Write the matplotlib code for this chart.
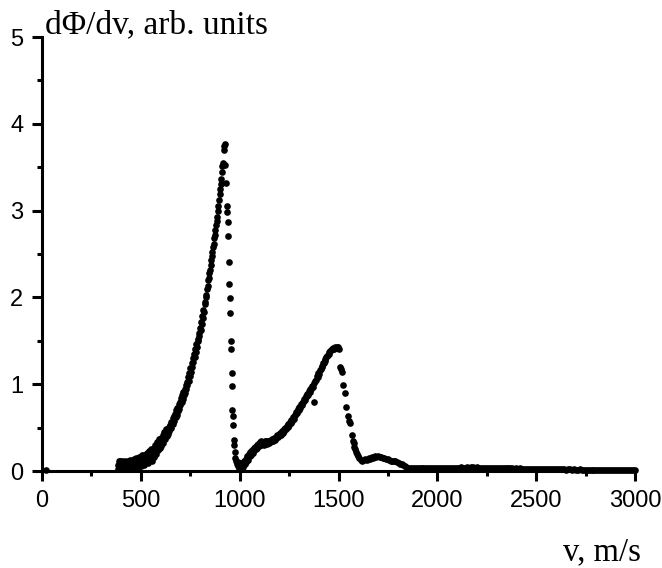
import numpy as np
import matplotlib
matplotlib.use("Agg")
import matplotlib.pyplot as plt
from matplotlib.ticker import MultipleLocator

# single point near the origin
v_origin = [20]
y_origin = [0.01]

# rising edge of the first peak (scattered)
v_rise1 = [382, 385, 388, 391, 394, 397, 400, 403, 406, 409, 412, 415, 418, 421, 424, 427, 430, 433, 436, 439,
           442, 445, 448, 451, 454, 457, 460, 463, 466, 469, 472, 475, 478, 481, 484, 487, 490, 493, 496, 499,
           502, 505, 508, 511, 514, 517, 520, 523, 526, 529, 532, 535, 538, 541, 544, 547, 550, 553, 556, 559,
           562, 565, 568, 571, 574, 577, 580, 583, 586, 589, 592, 595, 598, 601, 604, 607, 610, 613, 616, 619,
           622, 625, 628, 631, 634, 637, 640, 643, 646, 649, 652, 655, 658, 661, 664, 667, 670, 673, 676, 679,
           682, 685, 688, 691, 694, 697, 700, 703, 706, 709, 712, 715, 718, 721, 724, 727, 730, 733, 736, 739,
           742, 745, 748, 751, 754, 757, 760, 763, 766, 769, 772, 775, 778, 781, 784, 787, 790, 793, 796, 799,
           802, 805, 808, 811, 814, 817, 820, 823, 826, 829, 832, 835, 838, 841, 844, 847, 850, 853, 856, 859,
           862, 865, 868, 871, 874, 877, 880, 883, 886, 889, 892, 895, 898, 901, 904, 907, 910, 913, 916, 919,
           922, 924]
y_rise1 = [0.02, 0.07, 0.11, 0.04, 0.09, 0.12, 0.03, 0.08, 0.11, 0.05, 0.10, 0.07, 0.02, 0.12, 0.08, 0.04, 0.10, 0.07, 0.12, 0.05,
           0.09, 0.13, 0.03, 0.08, 0.11, 0.06, 0.10, 0.14, 0.05, 0.09, 0.12, 0.07, 0.15, 0.10, 0.04, 0.13, 0.08, 0.16, 0.11, 0.06,
           0.14, 0.18, 0.09, 0.15, 0.07, 0.19, 0.12, 0.16, 0.10, 0.21, 0.14, 0.09, 0.19, 0.23, 0.13, 0.20, 0.16, 0.25, 0.12, 0.21,
           0.18, 0.27, 0.16, 0.23, 0.30, 0.20, 0.26, 0.33, 0.24, 0.29, 0.37, 0.26, 0.32, 0.29, 0.38, 0.34, 0.41, 0.32, 0.39, 0.45,
           0.37, 0.42, 0.48, 0.40, 0.46, 0.43, 0.51, 0.46, 0.53, 0.49, 0.57, 0.50, 0.55, 0.61, 0.54, 0.63, 0.58, 0.66, 0.62, 0.70,
           0.65, 0.73, 0.69, 0.77, 0.72, 0.80, 0.76, 0.84, 0.80, 0.88, 0.83, 0.91, 0.87, 0.95, 0.90, 0.99, 0.94, 1.03, 0.99, 1.08,
           1.04, 1.13, 1.09, 1.19, 1.14, 1.25, 1.20, 1.30, 1.26, 1.35, 1.31, 1.40, 1.37, 1.46, 1.43, 1.52, 1.50, 1.59, 1.56, 1.65,
           1.63, 1.72, 1.69, 1.78, 1.76, 1.85, 1.83, 1.92, 1.95, 2.03, 2.01, 2.10, 2.13, 2.20, 2.22, 2.28, 2.32, 2.37, 2.43, 2.48,
           2.52, 2.58, 2.62, 2.68, 2.72, 2.78, 2.83, 2.88, 2.93, 2.99, 3.05, 3.12, 3.19, 3.25, 3.31, 3.36, 3.45, 3.51, 3.55, 3.70,
           3.74, 3.77]

# steep fall after the first peak
v_fall1 = [928, 933, 936, 938, 940, 942, 944, 946, 949, 951, 955, 956, 959, 961, 963, 964, 966, 970, 972, 975,
           978, 982, 986, 990, 994, 998, 1002, 1006, 1010, 1014, 1018, 1022]
y_fall1 = [3.52, 3.32, 3.05, 2.98, 2.87, 2.71, 2.41, 2.16, 1.99, 1.82, 1.50, 1.40, 1.13, 0.98, 0.70, 0.63, 0.53, 0.36, 0.30, 0.22,
           0.15, 0.12, 0.08, 0.10, 0.06, 0.04, 0.07, 0.03, 0.06, 0.09, 0.05, 0.11]

# second peak, rising side
v_rise2 = [1026, 1030, 1034, 1038, 1042, 1046, 1050, 1054, 1058, 1062, 1066, 1070, 1074, 1078, 1082, 1086, 1090, 1094, 1098, 1102,
           1106, 1110, 1114, 1118, 1122, 1126, 1130, 1134, 1138, 1142, 1146, 1150, 1154, 1158, 1162, 1166, 1170, 1174, 1178, 1182,
           1186, 1190, 1194, 1198, 1202, 1206, 1210, 1214, 1218, 1222, 1226, 1230, 1234, 1238, 1242, 1246, 1250, 1254, 1258, 1262,
           1266, 1270, 1274, 1278, 1282, 1286, 1290, 1294, 1298, 1302, 1306, 1310, 1314, 1318, 1322, 1326, 1330, 1334, 1338, 1342,
           1346, 1350, 1354, 1358, 1362, 1366, 1370, 1374, 1378, 1382, 1386, 1390, 1394, 1398, 1402, 1406, 1410, 1414, 1418, 1422,
           1426, 1430, 1434, 1438, 1442, 1446, 1450, 1454, 1458, 1462, 1466, 1470, 1474, 1478, 1482, 1486, 1490, 1494, 1498, 1502]
y_rise2 = [0.08, 0.14, 0.10, 0.17, 0.13, 0.20, 0.17, 0.22, 0.19, 0.24, 0.21, 0.27, 0.24, 0.28, 0.25, 0.30, 0.27, 0.31, 0.29, 0.33,
           0.30, 0.34, 0.31, 0.33, 0.30, 0.34, 0.32, 0.35, 0.31, 0.34, 0.32, 0.35, 0.33, 0.36, 0.34, 0.37, 0.35, 0.38, 0.36, 0.39,
           0.38, 0.41, 0.39, 0.42, 0.41, 0.44, 0.42, 0.46, 0.44, 0.48, 0.46, 0.50, 0.48, 0.52, 0.51, 0.54, 0.53, 0.57, 0.55, 0.59,
           0.58, 0.62, 0.60, 0.65, 0.64, 0.68, 0.67, 0.71, 0.70, 0.74, 0.73, 0.77, 0.76, 0.80, 0.79, 0.83, 0.82, 0.86, 0.85, 0.89,
           0.88, 0.92, 0.91, 0.95, 0.94, 0.98, 0.97, 1.01, 0.80, 1.04, 1.05, 1.09, 1.08, 1.13, 1.12, 1.16, 1.17, 1.20, 1.21, 1.24,
           1.25, 1.27, 1.29, 1.31, 1.32, 1.34, 1.35, 1.37, 1.38, 1.39, 1.40, 1.41, 1.42, 1.41, 1.43, 1.42, 1.43, 1.42, 1.43, 1.41]

# second peak, falling side and shoulder
v_fall2 = [1507, 1512, 1516, 1523, 1532, 1540, 1548, 1552, 1557, 1568, 1572, 1576, 1580, 1584, 1588, 1592, 1598, 1605, 1612, 1620,
           1628, 1636, 1644, 1652, 1660, 1668, 1676, 1684, 1692, 1700, 1708, 1716, 1724, 1732, 1740, 1748, 1756, 1764, 1772, 1780,
           1788, 1796, 1804, 1812, 1820, 1828, 1836, 1844, 1852, 1860]
y_fall2 = [1.20, 1.18, 1.14, 0.99, 0.90, 0.74, 0.63, 0.58, 0.55, 0.41, 0.35, 0.32, 0.28, 0.25, 0.22, 0.20, 0.17, 0.15, 0.13, 0.12,
           0.13, 0.14, 0.13, 0.15, 0.14, 0.16, 0.15, 0.17, 0.16, 0.17, 0.16, 0.16, 0.15, 0.15, 0.14, 0.14, 0.13, 0.12, 0.12, 0.11,
           0.11, 0.10, 0.09, 0.08, 0.08, 0.07, 0.06, 0.05, 0.04, 0.04]

# long fast tail
v_tail = [1870, 1880, 1890, 1900, 1910, 1920, 1930, 1940, 1950, 1960, 1970, 1980, 1990, 2000, 2010, 2020, 2030, 2040, 2050, 2060,
          2070, 2080, 2090, 2100, 2110, 2120, 2130, 2140, 2150, 2160, 2170, 2180, 2190, 2200, 2210, 2220, 2230, 2240, 2250, 2260,
          2270, 2280, 2290, 2300, 2310, 2320, 2330, 2340, 2350, 2360, 2370, 2380, 2390, 2400, 2410, 2420, 2430, 2440, 2450, 2460,
          2470, 2480, 2490, 2500, 2510, 2520, 2530, 2540, 2550, 2560, 2570, 2580, 2590, 2600, 2610, 2620, 2630, 2640, 2650, 2660,
          2670, 2680, 2690, 2700, 2710, 2720, 2730, 2740, 2750, 2760, 2770, 2780, 2790, 2800, 2810, 2820, 2830, 2840, 2850, 2860,
          2870, 2880, 2890, 2900, 2910, 2920, 2930, 2940, 2950, 2960, 2970, 2980, 2990, 3000]
y_tail = [0.03, 0.03, 0.03, 0.03, 0.03, 0.03, 0.03, 0.03, 0.03, 0.03, 0.03, 0.04, 0.03, 0.04, 0.04, 0.03, 0.04, 0.04, 0.04, 0.04,
          0.03, 0.04, 0.04, 0.04, 0.04, 0.05, 0.04, 0.04, 0.05, 0.04, 0.05, 0.05, 0.04, 0.05, 0.04, 0.04, 0.04, 0.04, 0.04, 0.04,
          0.03, 0.04, 0.03, 0.04, 0.03, 0.03, 0.03, 0.03, 0.03, 0.03, 0.03, 0.03, 0.02, 0.03, 0.02, 0.03, 0.02, 0.02, 0.02, 0.02,
          0.02, 0.02, 0.02, 0.02, 0.02, 0.02, 0.02, 0.02, 0.02, 0.02, 0.02, 0.02, 0.02, 0.02, 0.02, 0.02, 0.02, 0.02, 0.01, 0.02,
          0.02, 0.01, 0.02, 0.01, 0.01, 0.02, 0.01, 0.01, 0.01, 0.01, 0.01, 0.01, 0.01, 0.01, 0.01, 0.01, 0.01, 0.01, 0.01, 0.01,
          0.01, 0.01, 0.01, 0.01, 0.01, 0.01, 0.01, 0.01, 0.01, 0.01, 0.01, 0.01, 0.01, 0.01]

v_all = np.concatenate([v_origin, v_rise1, v_fall1, v_rise2, v_fall2, v_tail])
y_all = np.concatenate([y_origin, y_rise1, y_fall1, y_rise2, y_fall2, y_tail])

fig = plt.figure(figsize=(6.62, 5.68), dpi=100)
ax = fig.add_axes([42 / 662, 97 / 568, 593 / 662, 434 / 568])

ax.plot(v_all, y_all, 'o', color='black', markersize=4.8, markeredgewidth=0, clip_on=False)

ax.set_xlim(0, 3000)
ax.set_ylim(0, 5)
ax.xaxis.set_major_locator(MultipleLocator(500))
ax.xaxis.set_minor_locator(MultipleLocator(250))
ax.yaxis.set_major_locator(MultipleLocator(1))
ax.yaxis.set_minor_locator(MultipleLocator(0.5))

for side in ['top', 'right']:
    ax.spines[side].set_visible(False)
for side in ['left', 'bottom']:
    ax.spines[side].set_linewidth(2.2)

ax.tick_params(which='major', direction='out', length=7, width=2.2, labelsize=17, pad=6.5)
ax.tick_params(which='minor', direction='out', length=3.6, width=2.2)
for lab in ax.get_xticklabels() + ax.get_yticklabels():
    lab.set_fontfamily('Liberation Sans')

fig.text(45 / 662, 1 - 33 / 568, 'd\u03a6/dv, arb. units', fontfamily='Liberation Serif',
         fontsize=24, ha='left', va='baseline')
fig.text(641 / 662, 1 - 560 / 568, 'v, m/s', fontfamily='Liberation Serif',
         fontsize=23.5, ha='right', va='baseline')

fig.savefig('out.png', dpi=100)
